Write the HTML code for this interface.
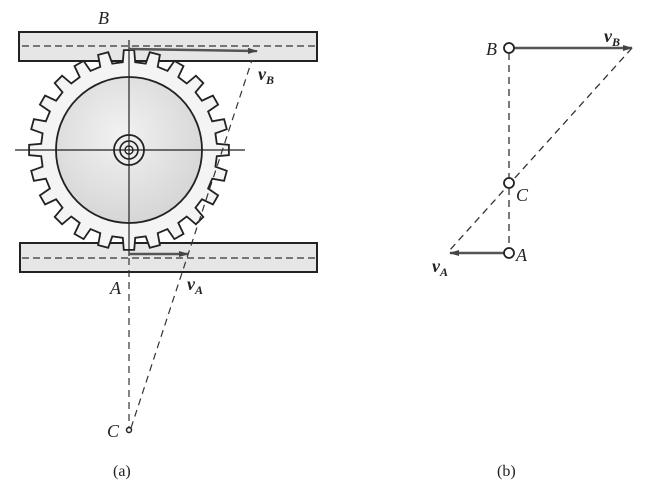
<!DOCTYPE html>
<html><head><meta charset="utf-8"><style>
html,body{margin:0;padding:0;background:#fff;}
svg{display:block;}
text{font-family:"Liberation Serif",serif;font-style:italic;fill:#222;}
</style></head><body>
<svg id="s" width="649" height="497" viewBox="0 0 649 497" xmlns="http://www.w3.org/2000/svg">
<defs>
<radialGradient id="g" cx="0.45" cy="0.4" r="0.6"><stop offset="0" stop-color="#f2f2f2"/><stop offset="1" stop-color="#d6d6d6"/></radialGradient>
<marker id="ar" markerWidth="10" markerHeight="6" refX="9" refY="3" orient="auto" markerUnits="userSpaceOnUse"><path d="M0,0 L10,3 L0,6 Z" fill="#444"/></marker>
</defs>
<rect x="19" y="32" width="298" height="29" fill="#e6e6e6" stroke="#222" stroke-width="2"/>
<rect x="20" y="243" width="297" height="29" fill="#e6e6e6" stroke="#222" stroke-width="2"/>
<line x1="22" y1="46" x2="315" y2="46" stroke="#333" stroke-width="1.2" stroke-dasharray="7,4"/>
<line x1="22" y1="258" x2="315" y2="258" stroke="#333" stroke-width="1.2" stroke-dasharray="7,4"/>
<g id="gear"></g>
<circle cx="129" cy="150" r="73" fill="url(#g)" stroke="#222" stroke-width="1.8"/>
<circle cx="129" cy="150" r="15" fill="#eee" stroke="#222" stroke-width="1.8"/>
<circle cx="129" cy="150" r="9" fill="#eee" stroke="#222" stroke-width="1.6"/>
<circle cx="129" cy="150" r="4" fill="#fff" stroke="#222" stroke-width="1.4"/>
<line x1="15" y1="150" x2="245" y2="150" stroke="#222" stroke-width="1.2"/>
<line x1="129" y1="40" x2="129" y2="256" stroke="#222" stroke-width="1.2"/>
<line x1="129" y1="258" x2="129" y2="428" stroke="#333" stroke-width="1.2" stroke-dasharray="7,5"/>
<line x1="131" y1="428" x2="252" y2="60" stroke="#333" stroke-width="1.2" stroke-dasharray="7,5"/>
<line x1="129" y1="49" x2="257" y2="51" stroke="#555" stroke-width="2.5" marker-end="url(#ar)"/>
<line x1="129" y1="254" x2="188" y2="254" stroke="#555" stroke-width="2.5" marker-end="url(#ar)"/>
<circle cx="129" cy="430" r="2.5" fill="#fff" stroke="#222" stroke-width="1.5"/>
<text x="98" y="24" font-size="18">B</text>
<text x="258" y="80" font-size="18" font-weight="bold">v<tspan font-size="12" dy="4">B</tspan></text>
<text x="110" y="294" font-size="18">A</text>
<text x="187" y="290" font-size="18" font-weight="bold">v<tspan font-size="12" dy="4">A</tspan></text>
<text x="107" y="437" font-size="18">C</text>
<text x="113" y="476" font-size="16" style="font-style:normal">(a)</text>
<line x1="509" y1="53" x2="509" y2="178" stroke="#333" stroke-width="1.3" stroke-dasharray="7,5"/>
<line x1="509" y1="188" x2="509" y2="248" stroke="#333" stroke-width="1.3" stroke-dasharray="7,5"/>
<line x1="632" y1="48" x2="449" y2="251" stroke="#333" stroke-width="1.3" stroke-dasharray="7,5"/>
<line x1="514" y1="48" x2="632" y2="48" stroke="#555" stroke-width="2.5" marker-end="url(#ar)"/>
<line x1="504" y1="253" x2="450" y2="253" stroke="#555" stroke-width="2.5" marker-end="url(#ar)"/>
<circle cx="509" cy="48" r="5" fill="#fff" stroke="#222" stroke-width="1.8"/>
<circle cx="509" cy="183" r="5" fill="#fff" stroke="#222" stroke-width="1.8"/>
<circle cx="509" cy="253" r="5" fill="#fff" stroke="#222" stroke-width="1.8"/>
<text x="486" y="55" font-size="18">B</text>
<text x="516" y="201" font-size="18">C</text>
<text x="516" y="261" font-size="18">A</text>
<text x="604" y="42" font-size="18" font-weight="bold">v<tspan font-size="12" dy="4">B</tspan></text>
<text x="432" y="272" font-size="18" font-weight="bold">v<tspan font-size="12" dy="4">A</tspan></text>
<text x="497" y="476" font-size="16" style="font-style:normal">(b)</text>
</svg>
<script>
(function(){
var cx=129,cy=150,ro=100,ri=88,n=24,pts=[];
for(var i=0;i<n;i++){
 var a=2*Math.PI*i/n - Math.PI/2, s=2*Math.PI/n;
 var angs=[[a-0.27*s,ri],[a-0.2*s,ro],[a+0.2*s,ro],[a+0.27*s,ri]];
 angs.forEach(function(p){pts.push((cx+p[1]*Math.cos(p[0])).toFixed(1)+","+(cy+p[1]*Math.sin(p[0])).toFixed(1));});
}
var p=document.createElementNS("http://www.w3.org/2000/svg","polygon");
p.setAttribute("points",pts.join(" "));
p.setAttribute("fill","#f4f4f4");p.setAttribute("stroke","#222");p.setAttribute("stroke-width","1.8");
document.getElementById("gear").appendChild(p);
})();
</script>
</body></html>
